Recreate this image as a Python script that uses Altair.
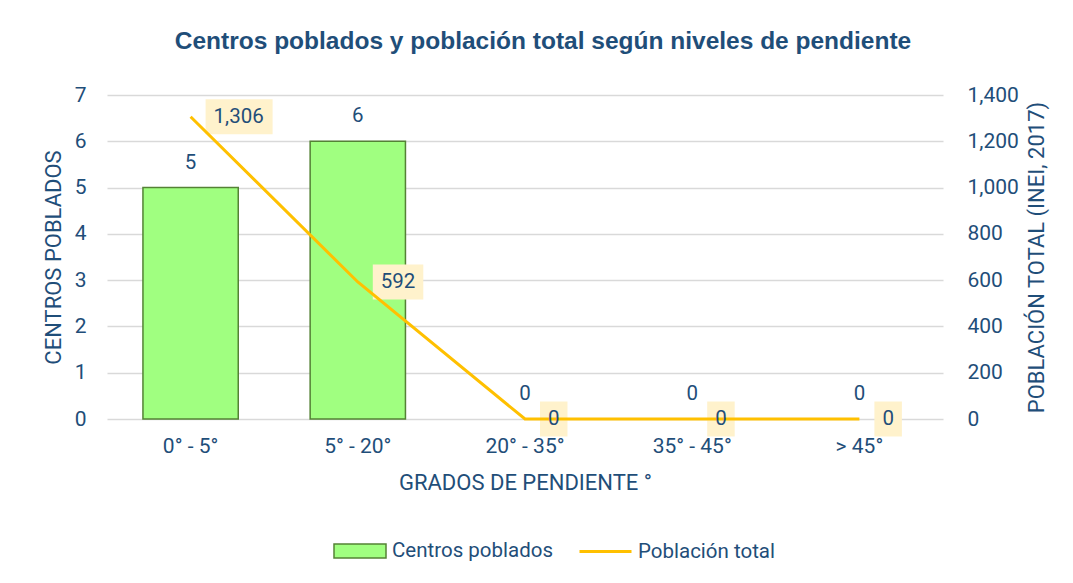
import altair as alt
import pandas as pd

categorias = ["0° - 5°", "5° - 20°", "20° - 35°", "35° - 45°", "> 45°"]
centros_poblados = [5, 6, 0, 0, 0]
poblacion_total = [1306, 592, 0, 0, 0]

df = pd.DataFrame({"cat": categorias, "centros": centros_poblados, "pob": poblacion_total})

BLUE = "#1F4E79"
FONT = "Roboto"
FS_TICK = 21
FS_TITLE = 22
FS_LBL = 20.5

x_axis = alt.Axis(
    title="GRADOS DE PENDIENTE °",
    labelAngle=0, domain=False, ticks=False,
    labelPadding=16, titlePadding=16,
    labelFont=FONT, labelFontSize=FS_TICK, labelColor=BLUE,
    titleFont=FONT, titleFontSize=FS_TITLE, titleColor=BLUE, titleFontWeight="normal",
)
x_enc = alt.X("cat:N", sort=categorias,
              scale=alt.Scale(paddingInner=0.43, paddingOuter=0.215), axis=x_axis)

yl_axis = alt.Axis(
    title="CENTROS POBLADOS", values=[0, 1, 2, 3, 4, 5, 6, 7],
    domain=False, ticks=False, labelPadding=21, titlePadding=9,
    grid=True, gridColor="#D9D9D9", gridWidth=1.5,
    labelFont=FONT, labelFontSize=FS_TICK, labelColor=BLUE,
    titleFont=FONT, titleFontSize=FS_TITLE, titleColor=BLUE, titleFontWeight="normal",
)
y_left = alt.Y("centros:Q", scale=alt.Scale(domain=[0, 7]), axis=yl_axis)

yr_axis = alt.Axis(
    orient="right", title="POBLACIÓN TOTAL (INEI, 2017)",
    values=[0, 200, 400, 600, 800, 1000, 1200, 1400],
    labelExpr="format(datum.value, ',')",
    domain=False, ticks=False, grid=False, labelPadding=24, titlePadding=30,
    titleAngle=270,
    labelFont=FONT, labelFontSize=FS_TICK, labelColor=BLUE,
    titleFont=FONT, titleFontSize=FS_TITLE, titleColor=BLUE, titleFontWeight="normal",
)
y_right = alt.Y("pob:Q", scale=alt.Scale(domain=[0, 1400]), axis=yr_axis)

base = alt.Chart(df)

bars = base.transform_filter("datum.centros > 0").transform_calculate(
    serie="'Centros poblados'"
).mark_bar(
    stroke="#548235", strokeWidth=1.5
).encode(
    x=x_enc,
    y=y_left,
    color=alt.Color(
        "serie:N",
        scale=alt.Scale(domain=["Centros poblados"], range=["#A0FF80"]),
        legend=alt.Legend(
            title=None, orient="none", legendX=226, legendY=429,
            symbolType="M-1,-0.27H1V0.27H-1Z", symbolSize=2704,
            symbolStrokeColor="#548235", symbolStrokeWidth=1.5,
            labelFont=FONT, labelFontSize=FS_LBL, labelColor=BLUE, labelOffset=5,
            labelLimit=400,
        ),
    ),
)

bar_text = base.mark_text(
    font=FONT, fontSize=FS_LBL, color=BLUE, baseline="middle", dy=-25
).encode(
    x=x_enc,
    y=y_left,
    text=alt.Text("centros:Q"),
)

left = alt.layer(bars, bar_text)

lbl_base = base.transform_calculate(
    lbl="format(datum.pob, ',')"
).transform_calculate(
    ncom="indexof(datum.lbl, ',') >= 0 ? 1 : 0"
).transform_calculate(
    bw="16 + 11.5 * (length(datum.lbl) - datum.ncom) + 5 * datum.ncom"
)

label_boxes = lbl_base.mark_rect(
    color="#FFF2CC",
    height=35,
    width=alt.ExprRef("datum.bw"),
    xOffset=alt.ExprRef("15 + datum.bw / 2"),
).encode(
    x=x_enc,
    y=y_right,
)

line = base.transform_calculate(serie2="'Población total'").mark_line(
    strokeWidth=3
).encode(
    x=x_enc,
    y=y_right,
    stroke=alt.Stroke(
        "serie2:N",
        scale=alt.Scale(domain=["Población total"], range=["#FFC000"]),
        legend=alt.Legend(
            title=None, orient="none", legendX=471, legendY=429,
            symbolType="stroke", symbolSize=2704, symbolStrokeWidth=3,
            labelFont=FONT, labelFontSize=FS_LBL, labelColor=BLUE, labelOffset=5,
            labelLimit=400,
        ),
    ),
)

line_text = lbl_base.mark_text(
    font=FONT, fontSize=FS_LBL, color=BLUE, align="left", baseline="middle", dx=23
).encode(
    x=x_enc,
    y=y_right,
    text="lbl:N",
)

right = alt.layer(label_boxes, line, line_text)

chart = alt.layer(left, right).resolve_scale(
    y="independent", color="independent", stroke="independent"
).properties(
    width=836, height=324,
    autosize=alt.AutoSizeParams(type="none"),
    padding={"left": 99, "top": 87, "right": 122, "bottom": 156},
    title=alt.TitleParams(
        "Centros poblados y población total según niveles de pendiente",
        font="Liberation Sans", fontSize=24.5, fontWeight="bold", color=BLUE,
        anchor="middle", frame="group", dx=18, offset=30,
    ),
).configure_view(stroke=None)

chart.save("out.html", embed_options={"renderer": "svg", "actions": False})
